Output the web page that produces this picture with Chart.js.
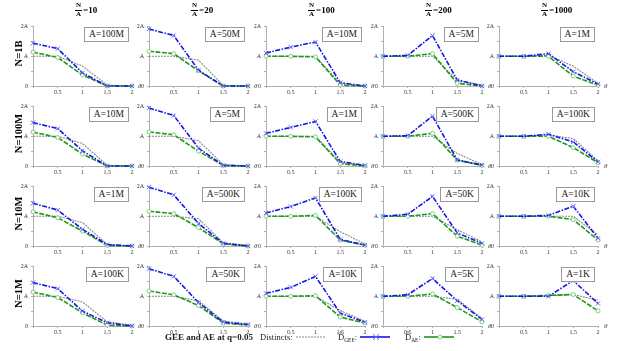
<!DOCTYPE html>
<html>
<head>
<meta charset="utf-8">
<script src="https://cdn.jsdelivr.net/npm/chart.js@4.4.0/dist/chart.umd.min.js"></script>
<style>
  body { margin: 0; background: #fff; font-family: "Liberation Serif", serif; }
  #wrap { position: relative; width: 619px; height: 351px; overflow: hidden; }
  canvas { position: absolute; }
  .box { position: absolute; height: 13px; line-height: 13px; padding: 0 4px; font-size: 9.5px;
         border: 1.5px solid #999; background: #fff; color: #222; white-space: nowrap; }
  .theta { position: absolute; font-size: 7px; font-style: italic; color: #333; }
  .rowlab { position: absolute; font-size: 10.5px; font-weight: bold; transform: rotate(-90deg);
            transform-origin: center center; white-space: nowrap; width: 60px; text-align: center; }
  .head { position: absolute; font-weight: bold; font-size: 9px; display: flex; align-items: center; }
  .frac { display: inline-flex; flex-direction: column; align-items: center; font-size: 7px; line-height: 7.5px; margin-right: 1px; }
  .frac span:first-child { border-bottom: 0.8px solid #000; padding: 0 1px; }
  .leg { position: absolute; font-size: 8.5px; line-height: 10px; color: #222; white-space: nowrap; display: flex; align-items: center; }
  .leg .sub { font-size: 5.5px; position: relative; top: 3px; }
  .leg svg { margin-left: 3px; }
</style>
</head>
<body>
<div id="wrap"></div>
<script>
const thetas = [0, 0.5, 1, 1.5, 2];
const ratioLabels = ['10', '20', '100', '200', '1000'];
const rowLabels = ['N=1B', 'N=100M', 'N=10M', 'N=1M'];
const boxLabels = [
  ['100M', '50M', '10M', '5M', '1M'],
  ['10M', '5M', '1M', '500K', '100K'],
  ['1M', '500K', '100K', '50K', '10K'],
  ['100K', '50K', '10K', '5K', '1K']
];
// values in units of A, one row per N, one list per N/A column
const distincts = [
  [[1,1,0.67,0.03,0], [1,1,0.87,0.02,0], [1,1,1,0.09,0], [1,1,1,0.2,0.03], [1,1,1.03,0.67,0.09]],
  [[1,1,0.76,0.02,0], [1,1,0.85,0.05,0], [1,1,1,0.12,0.02], [1,1,1,0.42,0.05], [1,1,1.05,0.92,0.18]],
  [[1,1,0.79,0.05,0], [1,1,0.92,0.11,0.02], [1,1,1,0.48,0.07], [1,1,1,0.55,0.14], [1,1,1,1,0.37]],
  [[1,1,0.81,0.14,0.03], [1,1,0.85,0.17,0.07], [1,1,1,0.52,0.16], [1,1,1,0.9,0.26], [1,1,1.02,1.06,0.87]]
];
const gee = [
  [[1.44,1.26,0.44,0,0], [1.92,1.7,0.53,0,0], [1.11,1.31,1.48,0.11,0], [1,1.03,1.7,0.2,0], [1,1,1.09,0.48,0.07]],
  [[1.46,1.26,0.51,0,0], [1.95,1.7,0.6,0.02,0], [1.1,1.3,1.5,0.15,0.02], [1,1.02,1.68,0.2,0.03], [1,1,1.07,0.81,0.14]],
  [[1.44,1.21,0.56,0.05,0], [1.98,1.72,0.76,0.09,0], [1.11,1.33,1.62,0.22,0.03], [1,1.07,1.67,0.44,0.09], [1,1,1.03,1.34,0.26]],
  [[1.46,1.26,0.5,0.11,0], [1.93,1.67,0.79,0.13,0.05], [1.1,1.3,1.67,0.43,0.13], [1,1.05,1.6,0.85,0.22], [1,1,1,1.53,0.76]]
];
const ae = [
  [[1.14,0.96,0.37,0,0], [1.17,1.09,0.51,0,0], [1,1,0.98,0.03,0], [1,1,1.09,0.09,0], [1,1,1,0.33,0.03]],
  [[1.14,0.96,0.4,0,0], [1.15,1.05,0.5,0.02,0], [1,1,0.98,0.08,0], [1,1,1.1,0.2,0.02], [1,1,1,0.62,0.11]],
  [[1.15,0.95,0.5,0.02,0], [1.17,1.09,0.62,0.07,0], [1,1,1.03,0.2,0.03], [1,1,1.09,0.33,0.03], [1,1,1,0.89,0.2]],
  [[1.14,0.96,0.44,0.03,0], [1.18,1.05,0.69,0.1,0.03], [1,1,1.02,0.3,0.1], [1,1,1.08,0.62,0.14], [1,1,1.03,1.06,0.51]]
];

/* ++++++++++ LAYOUT ++++++++++ */
const colX = [33, 149, 266, 383, 499];   // pixel of theta = 0
const rowY = [25, 105, 185, 265];        // pixel of 2A
const plotW = 100, plotH = 61;
const padL = 22, padT = 5, padR = 4, padB = 12;
const wrap = document.getElementById('wrap');
const tickFont = { family: 'Liberation Serif', size: 6 };

function pts(vals) {
  return vals.map((v, i) => ({ x: thetas[i], y: v }));
}

function createPanel(r, c) {
  const canvas = document.createElement('canvas');
  canvas.width = padL + plotW + padR;
  canvas.height = padT + plotH + padB;
  canvas.style.left = (colX[c] - padL) + 'px';
  canvas.style.top = (rowY[r] - padT) + 'px';
  wrap.appendChild(canvas);

  new Chart(canvas.getContext('2d'), {
    type: 'line',
    data: {
      datasets: [
        {
          data: pts(distincts[r][c]), borderColor: '#8a8a8a', borderWidth: 1.1,
          borderDash: [2, 1], pointRadius: 0, clip: false, order: 3
        },
        {
          data: pts(ae[r][c]), borderColor: '#1a9a1a', borderWidth: 1.6,
          borderDash: [5, 1.5],
          pointStyle: 'circle', pointRadius: 2, pointBorderColor: '#7fd07f',
          pointBackgroundColor: '#ffffff', pointBorderWidth: 1, clip: false, order: 2
        },
        {
          data: pts(gee[r][c]), borderColor: '#1515e8', borderWidth: 1.6,
          borderDash: [5, 1.5, 1.5, 1.5],
          pointStyle: 'crossRot', pointRadius: 3, pointBorderColor: '#6a6aff',
          pointBorderWidth: 1, clip: false, order: 1
        }
      ]
    },
    options: {
      responsive: false,
      animation: false,
      devicePixelRatio: 1,
      layout: { padding: { top: padT, right: padR, left: 0, bottom: 0 } },
      plugins: { legend: { display: false }, tooltip: { enabled: false } },
      scales: {
        x: {
          type: 'linear', min: 0, max: 2,
          afterFit: s => { s.height = padB; },
          border: { color: '#b0b0b0', width: 1 },
          grid: { drawOnChartArea: false, tickLength: 2, color: '#b0b0b0' },
          ticks: {
            stepSize: 0.5, padding: 1, font: tickFont, color: '#333', maxRotation: 0,
            callback: v => (v === 0 ? '' : String(v))
          }
        },
        y: {
          min: 0, max: 2,
          afterFit: s => { s.width = padL; },
          border: { color: '#b0b0b0', width: 1 },
          grid: { drawOnChartArea: false, tickLength: 2, color: '#b0b0b0' },
          ticks: {
            stepSize: 0.5, padding: 3, font: tickFont, color: '#333',
            callback: v => (v === 0 ? '0' : v === 1 ? 'A' : v === 2 ? '2A' : '')
          }
        }
      }
    }
  });

  // label box
  const box = document.createElement('div');
  box.className = 'box';
  box.textContent = 'A=' + boxLabels[r][c];
  box.style.top = (rowY[r] + 2) + 'px';
  box.style.right = (619 - (colX[c] + 96)) + 'px';
  wrap.appendChild(box);

  const th = document.createElement('div');
  th.className = 'theta';
  th.textContent = 'θ';
  th.style.left = (colX[c] + plotW + 5) + 'px';
  th.style.top = (rowY[r] + plotH - 4) + 'px';
  wrap.appendChild(th);
}

for (let r = 0; r < 4; r++) {
  for (let c = 0; c < 5; c++) createPanel(r, c);
  const lab = document.createElement('div');
  lab.className = 'rowlab';
  lab.textContent = rowLabels[r];
  lab.style.left = (18 - 30) + 'px';
  lab.style.top = (rowY[r] + 30 - 7) + 'px';
  wrap.appendChild(lab);
}

// column headers
ratioLabels.forEach((t, c) => {
  const h = document.createElement('div');
  h.className = 'head';
  h.innerHTML = '<span class="frac"><span>N</span><span>A</span></span>=' + t;
  h.style.left = (colX[c] + 42) + 'px';
  h.style.top = '2px';
  wrap.appendChild(h);
});

// legend
const legend = [
  { html: '<b style="font-size:9px">GEE and AE at q=0.05</b>', x: 165 },
  { html: 'Distincts: <svg width="30" height="6"><line x1="0" y1="3" x2="30" y2="3" stroke="#8a8a8a" stroke-width="1.1" stroke-dasharray="2,1"/></svg>', x: 260 },
  { html: 'D&#770;<span class="sub">GEE</span>: <svg width="30" height="8"><line x1="0" y1="4" x2="30" y2="4" stroke="#1515e8" stroke-width="1.6"/><path d="M13 1L19 7M19 1L13 7" stroke="#6a6aff" stroke-width="1"/></svg>', x: 338 },
  { html: 'D&#770;<span class="sub">AE</span>: <svg width="30" height="8"><line x1="0" y1="4" x2="30" y2="4" stroke="#1a9a1a" stroke-width="1.6"/><circle cx="16" cy="4" r="2" fill="#fff" stroke="#7fd07f" stroke-width="1"/></svg>', x: 405 }
];
legend.forEach(l => {
  const d = document.createElement('div');
  d.className = 'leg';
  d.innerHTML = l.html;
  d.style.left = l.x + 'px';
  d.style.top = '332px';
  wrap.appendChild(d);
});
</script>
</body>
</html>
